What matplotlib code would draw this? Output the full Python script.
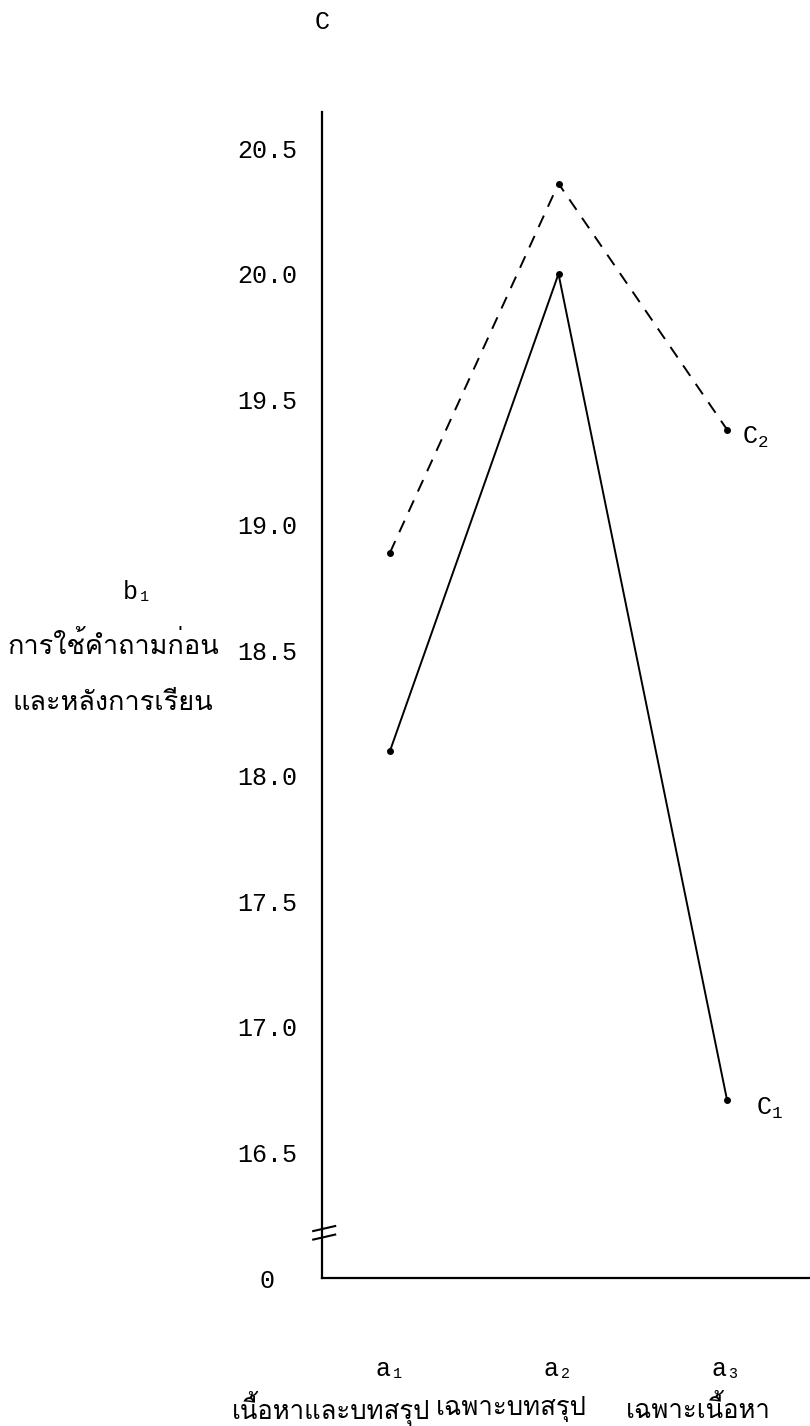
import matplotlib
matplotlib.use("Agg")
import matplotlib.pyplot as plt
from matplotlib import font_manager
from matplotlib.ft2font import FT2Font
import matplotlib.transforms as mtransforms

# ---------------- data ----------------
categories = ["a\u2081", "a\u2082", "a\u2083"]
category_names = ["เนื้อหาและบทสรุป", "เฉพาะบทสรุป", "เฉพาะเนื้อหา"]
c1_values = [18.10, 20.00, 16.71]
c2_values = [18.89, 20.36, 19.38]
series_labels = [r"C$_1$", r"C$_2$"]
y_ticks = [16.0, 16.5, 17.0, 17.5, 18.0, 18.5, 19.0, 19.5, 20.0, 20.5]
y_tick_labels = ["0", "16.5", "17.0", "17.5", "18.0", "18.5", "19.0", "19.5", "20.0", "20.5"]
y_break = 16.18
factor_label = "C"
row_label = "b\u2081"
row_names = ["การใช้คำถามก่อน", "และหลังการเรียน"]


def find_thai_font():
    preferred = []
    others = []
    for f in font_manager.fontManager.ttflist:
        try:
            cm = FT2Font(f.fname).get_charmap()
        except Exception:
            continue
        if 0x0E01 in cm and 0x0E33 in cm and 0x0E49 in cm:
            if "Thai" in f.name or "Loma" in f.name or "Garuda" in f.name:
                preferred.append(f.name)
            else:
                others.append(f.name)
    cands = preferred + others
    return cands[0] if cands else "DejaVu Sans"


thai_font = find_thai_font()
mono = ["Liberation Mono", "DejaVu Sans Mono", "DejaVu Sans"]
thai_family = [thai_font, "DejaVu Sans"]

plt.rcParams["mathtext.fontset"] = "custom"
plt.rcParams["mathtext.rm"] = "Liberation Mono"
plt.rcParams["mathtext.it"] = "Liberation Mono"
plt.rcParams["mathtext.bf"] = "Liberation Mono"

fig = plt.figure(figsize=(8.10, 14.26), dpi=100)
ax = fig.add_axes([322 / 810, 148 / 1426, 1 - 322 / 810, (1314 - 148) / 1426])

x = [1, 2, 3]
ax.plot(x, c1_values, color="black", lw=1.4, marker="o", ms=4,
        solid_joinstyle="miter")
ax.plot(x, c2_values, color="black", lw=1.4, marker="o", ms=4,
        linestyle=(0, (6.5, 5)))

ax.set_xlim(0.5964, 3.4926)
ax.set_ylim(16.0, 20.645)

for s in ["top", "right"]:
    ax.spines[s].set_visible(False)
ax.spines["left"].set_linewidth(1.6)
ax.spines["bottom"].set_linewidth(1.6)

ax.set_yticks(y_ticks)
ax.set_yticklabels(y_tick_labels, family=mono, fontsize=18, ha="center")
ax.tick_params(axis="y", length=0, pad=39.5)

ax.set_xticks(x)
ax.set_xticklabels(categories, family=mono, fontsize=18)
ax.tick_params(axis="x", length=0, pad=57)

# axis break marks
trans = mtransforms.blended_transform_factory(ax.transAxes, ax.transData)
for dy in (-0.017, 0.017):
    ax.plot([-0.018, 0.027], [y_break + dy - 0.01, y_break + dy + 0.01],
            color="black", lw=1.5, transform=trans, clip_on=False)

# series labels
ax.annotate(series_labels[0], (x[-1], c1_values[-1]), xytext=(21, -6),
            textcoords="offset points", family=mono, fontsize=18,
            ha="left", va="center")
ax.annotate(series_labels[1], (x[-1], c2_values[-1]), xytext=(11, -6),
            textcoords="offset points", family=mono, fontsize=18,
            ha="left", va="center")

# factor label at top
fig.text(322 / 810, 1 - 22 / 1426, factor_label, family=mono, fontsize=18,
         ha="center", va="center")

# row labels on the left
fig.text(138 / 810, 1 - 592 / 1426, row_label, family=mono, fontsize=18,
         ha="center", va="center")
fig.text(113 / 810, 1 - 645 / 1426, row_names[0], family=thai_family,
         fontsize=19.5, ha="center", va="center")
fig.text(113 / 810, 1 - 703 / 1426, row_names[1], family=thai_family,
         fontsize=19.5, ha="center", va="center")

# category names under the a-labels
for cx, name in zip([331, 511, 698], category_names):
    fig.text(cx / 810, 1 - 1409 / 1426, name, family=thai_family,
             fontsize=18.5, ha="center", va="center")

fig.savefig("out.png", dpi=100)
